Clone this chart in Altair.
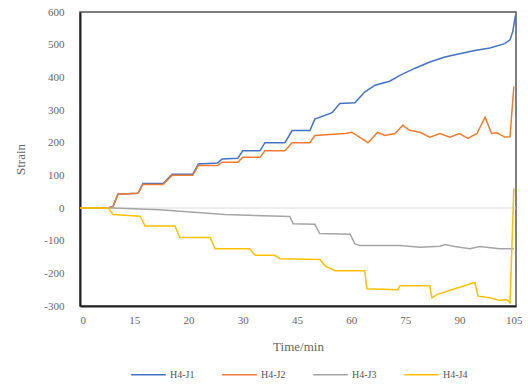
import altair as alt
import pandas as pd

# x positions are in axis units: tick i (0..8) labelled by TICK_LABELS[i]
TICK_LABELS = ["0", "15", "20", "30", "45", "60", "75", "90", "105"]
SERIES = ["H4-J1", "H4-J2", "H4-J3", "H4-J4"]
COLORS = ["#4472C4", "#ED7D31", "#A5A5A5", "#FFC000"]

j1_x = [0, 0.52, 0.61, 0.70, 1.07, 1.16, 1.53, 1.70, 2.08, 2.18, 2.54, 2.62, 2.91, 3.00, 3.32, 3.41,
        3.78, 3.91, 4.24, 4.33, 4.65, 4.79, 5.07, 5.25, 5.44, 5.71, 5.90, 6.18, 6.45, 6.73, 7.00,
        7.28, 7.56, 7.83, 7.93, 7.98, 8.03]
j1_y = [0, 0, 5, 42, 45, 75, 75, 103, 103, 135, 138, 150, 152, 175, 175, 200,
        200, 237, 237, 272, 292, 320, 322, 355, 376, 388, 406, 428, 447, 462, 472,
        482, 490, 503, 515, 540, 590]

j2_x = [0, 0.52, 0.61, 0.70, 1.07, 1.16, 1.53, 1.70, 2.08, 2.18, 2.54, 2.62, 2.91, 3.00, 3.32, 3.41,
        3.78, 3.91, 4.24, 4.33, 4.89, 5.01, 5.16, 5.31, 5.49, 5.62, 5.81, 5.95, 6.08, 6.27, 6.45,
        6.64, 6.82, 7.00, 7.15, 7.32, 7.47, 7.59, 7.69, 7.83, 7.93, 8.00]
j2_y = [0, 0, 5, 42, 45, 72, 72, 100, 100, 130, 130, 140, 140, 155, 155, 175,
        175, 200, 200, 222, 228, 232, 216, 200, 232, 222, 228, 253, 238, 232, 217,
        228, 217, 228, 213, 228, 278, 228, 230, 217, 218, 372]

j3_x = [0, 0.61, 1.47, 2.67, 3.87, 3.93, 4.33, 4.42, 4.98, 5.07, 5.16, 5.90, 6.27, 6.64, 6.73,
        6.91, 7.19, 7.37, 7.74, 8.00]
j3_y = [0, 0, -5, -20, -26, -48, -50, -78, -80, -110, -115, -115, -120, -117, -112,
        -118, -125, -118, -125, -125]

j4_x = [0, 0.52, 0.61, 1.11, 1.20, 1.75, 1.84, 2.40, 2.49, 3.13, 3.23, 3.59, 3.69, 4.42, 4.52,
        4.70, 5.25, 5.29, 5.86, 5.90, 6.45, 6.49, 6.58, 6.64, 6.91, 7.28, 7.34, 7.56, 7.74, 7.87,
        7.93, 8.00]
j4_y = [0, 0, -20, -25, -55, -55, -90, -90, -125, -125, -145, -145, -155, -158, -177,
        -192, -192, -247, -250, -238, -238, -275, -265, -262, -247, -228, -270, -275, -283, -280,
        -290, 60]

Y_TICKS = [-300, -200, -100, 0, 100, 200, 300, 400, 500, 600]

rows = []
for name, xs, ys in zip(SERIES, [j1_x, j2_x, j3_x, j4_x], [j1_y, j2_y, j3_y, j4_y]):
    for i, (x, y) in enumerate(zip(xs, ys)):
        rows.append({"series": name, "x": x, "y": y, "order": i})
df = pd.DataFrame(rows)

label_expr = "[" + ",".join(f"'{t}'" for t in TICK_LABELS) + "][round(datum.value)]"
y_label_expr = "datum.value < 0 ? '-' + abs(datum.value) : '' + datum.value"

FONT = "Liberation Serif"

y_scale = alt.Scale(domain=[-300, 600], nice=False)
y_axis = alt.Axis(values=Y_TICKS, labelExpr=y_label_expr,
                  title="Strain", grid=False, labelOverlap=False, labelBound=False,
                  ticks=False, domainColor="#222", domainWidth=2, labelPadding=16,
                  titlePadding=16)

zero = alt.Chart(pd.DataFrame({"y": [0]})).mark_rule(color="#d9d9d9", strokeWidth=1).encode(
    y=alt.Y("y:Q", scale=y_scale, axis=y_axis, title="Strain")
)

lines = alt.Chart(df).mark_line(strokeWidth=1.5).encode(
    x=alt.X("x:Q", scale=alt.Scale(domain=[0, 8.04], nice=False, zero=False),
            axis=alt.Axis(values=list(range(9)), labelExpr=label_expr, title="Time/min",
                          grid=False, ticks=False, domainColor="#222", domainWidth=2,
                          labelPadding=8, titlePadding=15, labelOverlap=False)),
    y=alt.Y("y:Q", scale=y_scale, axis=y_axis, title="Strain"),
    color=alt.Color("series:N", scale=alt.Scale(domain=SERIES, range=COLORS),
                    legend=alt.Legend(title=None, orient="none", direction="horizontal",
                                      legendX=50, legendY=344, symbolType="stroke",
                                      symbolSize=1200, symbolStrokeWidth=1.4,
                                      columnPadding=24, labelOffset=3)),
    order="order:Q",
)

chart = alt.layer(zero, lines).properties(
    width=436, height=294,
    padding={"left": 80, "top": 12, "right": 12, "bottom": 78},
    autosize=alt.AutoSizeParams(type="none"),
).configure_view(stroke="#555", strokeWidth=1.5).configure_axis(
    labelFont=FONT, titleFont=FONT, labelFontSize=11, titleFontSize=13,
    labelColor="#666", titleColor="#666", titleFontWeight="normal"
).configure_legend(labelFont=FONT, labelFontSize=10, labelColor="#555")

chart.save("out.html", embed_options={"renderer": "svg", "actions": False})
